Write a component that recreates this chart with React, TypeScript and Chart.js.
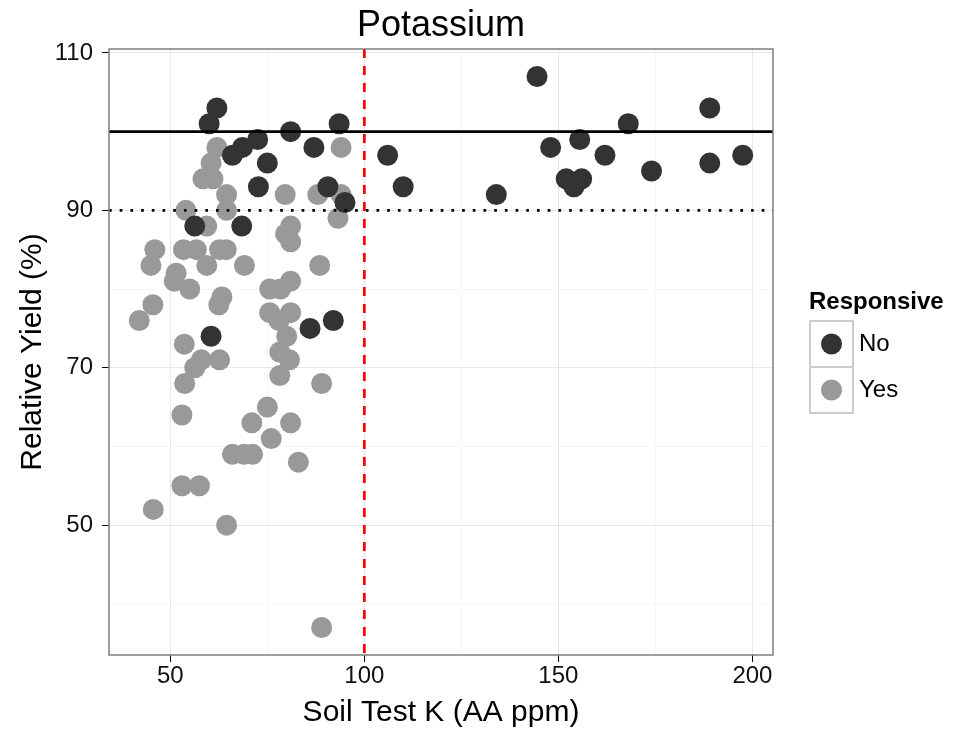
import React, { useEffect, useRef } from 'react';
import { Chart, registerables } from 'chart.js';

Chart.register(...registerables);

// ---- data ----
const chartTitle = 'Potassium';
const xTitle = 'Soil Test K (AA ppm)';
const yTitle = 'Relative Yield (%)';
const legendTitle = 'Responsive';
const seriesNames = ['No', 'Yes'];

const noK = [62, 60, 81, 93.5, 72.5, 68.6, 66, 87, 75, 72.7, 90.6, 95, 68.4, 56.3, 106, 110, 134, 144.5, 148, 155.5, 162, 168, 174, 189, 189, 197.5, 152, 156, 154, 60.5, 86, 92];
const noYield = [103, 101, 100, 101, 99, 98, 97, 98, 96, 93, 93, 91, 88, 88, 97, 93, 92, 107, 98, 99, 97, 101, 95, 103, 96, 97, 94, 94, 93, 74, 75, 76];

const yesK = [62, 60.5, 58.4, 61, 64.5, 64.5, 54, 59.4, 79.6, 88, 94, 94, 93.2, 81, 79.7, 81, 46, 45, 53.4, 56.7, 62.7, 64.4, 59.4, 51.5, 51, 55, 69.1, 88.5, 63.3, 62.5, 75.6, 78.4, 81, 45.5, 42, 75.6, 81, 78, 80, 53.6, 78.2, 80.7, 78.2, 58, 62.7, 56.3, 53.7, 89, 75, 53, 71, 81, 76, 66, 69, 71.2, 83, 53, 57.5, 45.6, 64.5, 89];
const yesYield = [98, 96, 94, 94, 92, 90, 90, 88, 92, 92, 92, 98, 89, 88, 87, 86, 85, 83, 85, 85, 85, 85, 83, 82, 81, 80, 83, 83, 79, 78, 80, 80, 81, 78, 76, 77, 77, 76, 74, 73, 72, 71, 69, 71, 71, 70, 68, 68, 65, 64, 63, 63, 61, 59, 59, 59, 58, 55, 55, 52, 50, 37];

const xMajor = [50, 100, 150, 200];
const xMinor = [75, 125, 175];
const yMajor = [50, 70, 90, 110];
const yMinor = [40, 60, 80, 100];

const solidRef = 100;
const dottedRef = 90;
const criticalK = 100;

const xRange = [34.2, 205.3];
const yRange = [33.5, 110.5];

const FONT = "'Liberation Sans', Arial, sans-serif";
const DARK = '#333333';
const LIGHT = '#999999';

const decor = {
  id: 'decor',
  afterDatasetsDraw(chart: any) {
    const { ctx, chartArea: a, scales } = chart;
    const x = scales.x;
    const y = scales.y;
    ctx.save();
    ctx.beginPath();
    ctx.rect(a.left, a.top, a.right - a.left, a.bottom - a.top);
    ctx.clip();
    // solid at 100
    const ys = y.getPixelForValue(solidRef);
    ctx.strokeStyle = '#000';
    ctx.lineWidth = 2.8;
    ctx.setLineDash([]);
    ctx.beginPath();
    ctx.moveTo(a.left, ys);
    ctx.lineTo(a.right, ys);
    ctx.stroke();
    // dotted at 90
    const yd = y.getPixelForValue(dottedRef);
    ctx.lineWidth = 2.7;
    ctx.setLineDash([2.7, 8]);
    ctx.beginPath();
    ctx.moveTo(a.left, yd);
    ctx.lineTo(a.right, yd);
    ctx.stroke();
    // red dashed vertical
    const xv = x.getPixelForValue(criticalK);
    ctx.strokeStyle = '#ff0000';
    ctx.lineWidth = 2.7;
    ctx.setLineDash([9, 8]);
    ctx.beginPath();
    ctx.moveTo(xv, a.top);
    ctx.lineTo(xv, a.bottom);
    ctx.stroke();
    ctx.restore();
  },
  afterDraw(chart: any) {
    const { ctx, chartArea: a } = chart;
    ctx.save();
    // panel border
    ctx.strokeStyle = '#7f7f7f';
    ctx.lineWidth = 1.5;
    ctx.setLineDash([]);
    ctx.strokeRect(a.left, a.top, a.right - a.left, a.bottom - a.top);

    const cx = (a.left + a.right) / 2;
    const cy = (a.top + a.bottom) / 2;
    ctx.fillStyle = '#000';
    ctx.textAlign = 'center';
    ctx.textBaseline = 'middle';
    ctx.font = `36px ${FONT}`;
    ctx.fillText(chartTitle, cx, 26);

    ctx.font = `30px ${FONT}`;
    ctx.fillText(xTitle, cx, 713);

    ctx.save();
    ctx.translate(33, cy);
    ctx.rotate(-Math.PI / 2);
    ctx.fillText(yTitle, 0, 0);
    ctx.restore();

    // legend
    ctx.textAlign = 'left';
    ctx.font = `bold 24px ${FONT}`;
    ctx.fillText(legendTitle, 809, 302);
    const keyX = 810;
    const keyW = 43;
    const keyH = 46;
    const keyTop = 321;
    const colors = [DARK, LIGHT];
    ctx.font = `24px ${FONT}`;
    seriesNames.forEach((name, i) => {
      const top = keyTop + i * keyH;
      ctx.fillStyle = '#ffffff';
      ctx.fillRect(keyX, top, keyW, keyH);
      ctx.strokeStyle = '#cccccc';
      ctx.lineWidth = 2;
      ctx.strokeRect(keyX, top, keyW, keyH);
      ctx.fillStyle = colors[i];
      ctx.beginPath();
      ctx.arc(keyX + keyW / 2, top + keyH / 2, 10.5, 0, Math.PI * 2);
      ctx.fill();
      ctx.fillStyle = '#000';
      ctx.fillText(name, 859, top + keyH / 2);
    });
    ctx.restore();
  },
};

export default function App() {
  const ref = useRef<HTMLCanvasElement | null>(null);
  useEffect(() => {
    if (!ref.current) return;
    const tickFont = { family: FONT, size: 24 };
    const chart = new Chart(ref.current, {
      type: 'scatter',
      data: {
        datasets: [
          {
            label: seriesNames[0],
            data: noK.map((k, i) => ({ x: k, y: noYield[i] })),
            backgroundColor: DARK,
            borderWidth: 0,
            pointRadius: 10.5,
            pointHoverRadius: 10.5,
            order: 0,
          },
          {
            label: seriesNames[1],
            data: yesK.map((k, i) => ({ x: k, y: yesYield[i] })),
            backgroundColor: LIGHT,
            borderWidth: 0,
            pointRadius: 10.5,
            pointHoverRadius: 10.5,
            order: 1,
          },
        ],
      },
      options: {
        animation: false,
        responsive: false,
        devicePixelRatio: 1,
        layout: { padding: { top: 49, right: 186, left: 0, bottom: 0 } },
        plugins: {
          legend: { display: false },
          title: { display: false },
          tooltip: { enabled: false },
        },
        scales: {
          x: {
            type: 'linear',
            min: xRange[0],
            max: xRange[1],
            afterBuildTicks: (s: any) => {
              s.ticks = [...xMajor, ...xMinor].sort((p, q) => p - q).map((v) => ({ value: v }));
            },
            afterFit: (s: any) => {
              s.height = 76;
            },
            ticks: {
              autoSkip: false,
              maxRotation: 0,
              padding: 0,
              color: '#111',
              font: tickFont,
              callback: (v: any) => (xMajor.includes(Number(v)) ? String(v) : ''),
            },
            grid: {
              color: (c: any) => (c.tick && xMajor.includes(c.tick.value) ? '#e8e8e8' : '#f6f6f6'),
              tickColor: (c: any) => (c.tick && xMajor.includes(c.tick.value) ? '#000' : 'rgba(0,0,0,0)'),
              tickLength: 7,
              lineWidth: 1,
            },
            border: { display: false },
          },
          y: {
            type: 'linear',
            min: yRange[0],
            max: yRange[1],
            afterBuildTicks: (s: any) => {
              s.ticks = [...yMajor, ...yMinor].sort((p, q) => p - q).map((v) => ({ value: v }));
            },
            afterFit: (s: any) => {
              s.width = 109;
            },
            ticks: {
              autoSkip: false,
              padding: 9,
              color: '#111',
              font: tickFont,
              callback: (v: any) => (yMajor.includes(Number(v)) ? String(v) : ''),
            },
            grid: {
              color: (c: any) => (c.tick && yMajor.includes(c.tick.value) ? '#e8e8e8' : '#f6f6f6'),
              tickColor: (c: any) => (c.tick && yMajor.includes(c.tick.value) ? '#000' : 'rgba(0,0,0,0)'),
              tickLength: 7,
              lineWidth: 1,
            },
            border: { display: false },
          },
        },
      },
      plugins: [decor],
    } as any);
    return () => chart.destroy();
  }, []);
  return (
    <div style={{ position: 'fixed', left: 0, top: 0, width: 959, height: 731, background: '#fff' }}>
      <canvas ref={ref} width={959} height={731} style={{ display: 'block' }} />
    </div>
  );
}
